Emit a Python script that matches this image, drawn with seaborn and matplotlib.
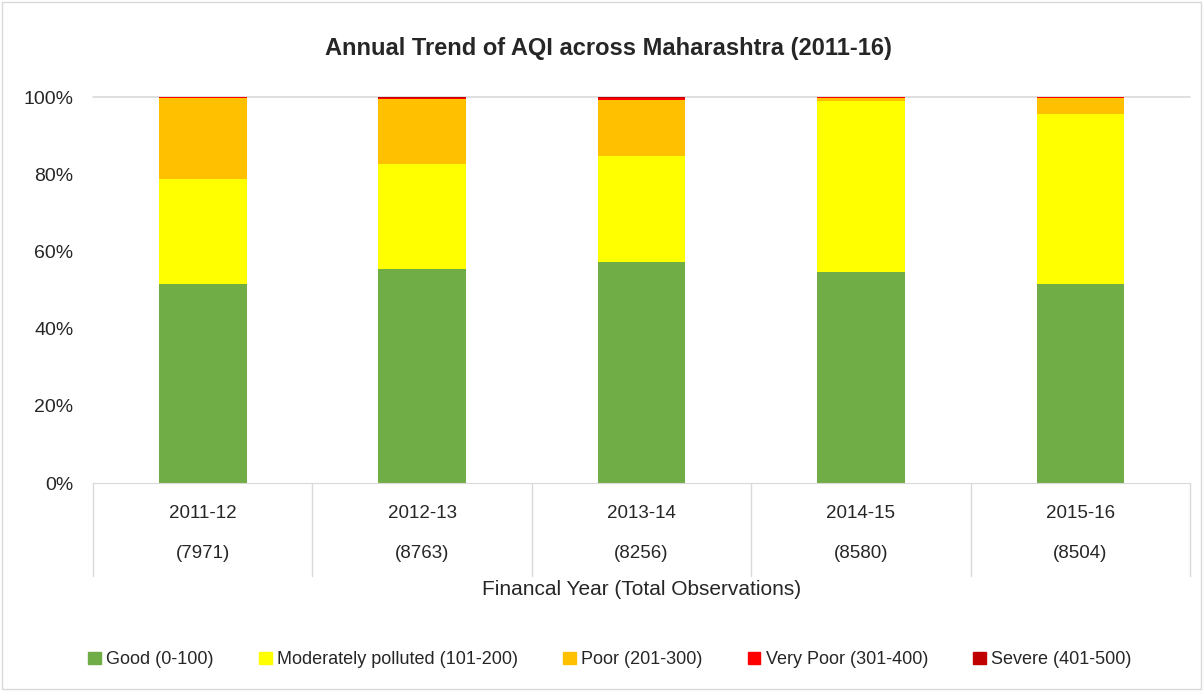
import matplotlib
matplotlib.use("Agg")
import matplotlib.pyplot as plt
import matplotlib.patches as mpatches
import matplotlib.transforms as mtransforms
from matplotlib.ticker import PercentFormatter
import numpy as np
import pandas as pd
import seaborn as sns

years = ["2011-12", "2012-13", "2013-14", "2014-15", "2015-16"]
observations = [7971, 8763, 8256, 8580, 8504]

categories = ["Good (0-100)", "Moderately polluted (101-200)", "Poor (201-300)",
              "Very Poor (301-400)", "Severe (401-500)"]
colors = ["#70AD47", "#FFFF00", "#FFC000", "#FF0000", "#C00000"]

good = [51.6, 55.4, 57.3, 54.7, 51.6]
moderate = [27.2, 27.2, 27.4, 44.3, 44.0]
poor = [20.9, 16.9, 14.6, 0.8, 4.2]
very_poor = [0.2, 0.3, 0.5, 0.2, 0.2]
severe = [0.1, 0.2, 0.2, 0.0, 0.0]

series = [good, moderate, poor, very_poor, severe]

sns.set_style("white")
plt.rcParams["font.family"] = ["Liberation Sans", "DejaVu Sans"]

fig = plt.figure(figsize=(12.03, 6.91), dpi=100)
ax = fig.add_axes([0.0773, 0.301, 0.912, 0.5586])

df = pd.DataFrame({"year": years})
cum = np.cumsum(np.array(series), axis=0) / 100.0
# draw from the top of the stack down so each lower segment covers the one above
for i in range(len(series) - 1, -1, -1):
    df["v"] = cum[i]
    sns.barplot(data=df, x="year", y="v", color=colors[i], width=0.4,
                saturation=1, ax=ax, edgecolor="none", linewidth=0)

ax.set_ylim(0, 1.0)
ax.set_xlim(-0.5, 4.5)
ax.yaxis.set_major_formatter(PercentFormatter(1.0, decimals=0))
ax.set_yticks(np.arange(0, 1.01, 0.2))
ax.tick_params(axis="y", labelsize=14, length=0, pad=14)
ax.set_xticks([])
ax.set_xlabel("")
ax.set_ylabel("")
for s in ["left", "right", "top"]:
    ax.spines[s].set_visible(False)
ax.spines["bottom"].set_color("#D9D9D9")
ax.axhline(1.0, color="#D9D9D9", lw=1.2, zorder=0, clip_on=False)

trans = mtransforms.blended_transform_factory(ax.transData, ax.transAxes)
for k in range(len(years) + 1):
    ax.plot([k - 0.5, k - 0.5], [0, -0.24], transform=trans, color="#D9D9D9",
            lw=1, clip_on=False)
for k, y in enumerate(years):
    ax.text(k, -0.08, y, transform=trans, ha="center", va="center", fontsize=13.5)
for k, n in enumerate(observations):
    ax.text(k, -0.183, f"({n})", transform=trans, ha="center", va="center", fontsize=13.5)
ax.text(2, -0.275, "Financal Year (Total Observations)", transform=trans,
        ha="center", va="center", fontsize=15)

fig.text(0.506, 0.93, "Annual Trend of AQI across Maharashtra (2011-16)",
         ha="center", va="center", fontsize=17, fontweight="bold")

handles = [mpatches.Patch(color=c, label=l) for c, l in zip(colors, categories)]
fig.legend(handles=handles, loc="center", bbox_to_anchor=(0.507, 0.045), ncol=5,
           frameon=False, fontsize=13, handlelength=0.7, handleheight=0.7,
           handletextpad=0.3, columnspacing=2.5)

fig.add_artist(mpatches.Rectangle((0.002, 0.003), 0.996, 0.994, transform=fig.transFigure,
                                  fill=False, edgecolor="#D9D9D9", lw=1))

fig.savefig("out.png", dpi=100)
